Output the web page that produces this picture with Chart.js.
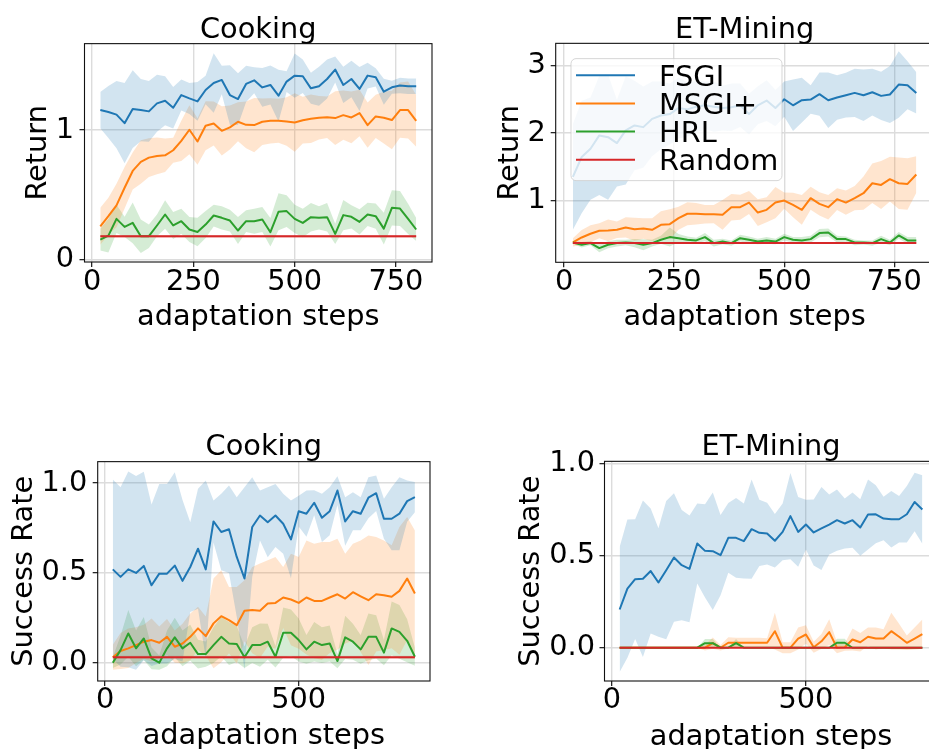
<!DOCTYPE html>
<html>
<head>
<meta charset="utf-8">
<script src="https://cdn.jsdelivr.net/npm/chart.js@4.4.1/dist/chart.umd.min.js"></script>
<style>
  html, body { margin: 0; padding: 0; background: #fff; }
  body { position: relative; width: 929px; height: 749px; overflow: hidden; }
  canvas { position: absolute; }
</style>
</head>
<body>
<canvas id="cookReturn" width="465" height="345" style="left:0px;top:0px"></canvas>
<canvas id="mineReturn" width="480" height="345" style="left:465px;top:0px"></canvas>
<canvas id="cookSuccess" width="465" height="345" style="left:0px;top:420px"></canvas>
<canvas id="mineSuccess" width="480" height="345" style="left:465px;top:420px"></canvas>
<script>
// ---- data -------------------------------------------------------------
const steps = [20,40,60,80,100,120,140,160,180,200,220,240,260,280,300,320,340,360,380,400,
               420,440,460,480,500,520,540,560,580,600,620,640,660,680,700,720,740,760,780,800];
const methods = ['FSGI', 'MSGI+', 'HRL', 'Random'];

const xTicksReturn = [0, 250, 500, 750];
const xTicksSuccess = [0, 500];
const yTicksCookReturn = [0, 1];
const yTicksMineReturn = [1, 2, 3];
const yTicksSuccess = [0, 0.5, 1];

// Cooking — return (mean and std over runs)
const cookRetFSGI = [1.155,1.14,1.12,1.054,1.163,1.155,1.145,1.207,1.227,1.173,1.271,1.245,1.222,1.31,1.364,1.388,1.271,1.24,1.357,1.385,
                     1.33,1.349,1.266,1.375,1.421,1.416,1.323,1.339,1.395,1.468,1.349,1.395,1.318,1.421,1.408,1.297,1.331,1.344,1.339,1.339];
const cookRetFSGIStd = [0.14,0.2,0.26,0.31,0.3,0.24,0.235,0.22,0.19,0.16,0.12,0.12,0.15,0.11,0.23,0.11,0.23,0.2,0.14,0.1,
                        0.15,0.15,0.2,0.08,0.17,0.13,0.12,0.15,0.15,0.1,0.14,0.14,0.17,0.1,0.07,0.1,0.05,0.06,0.06,0.06];
const cookRetMSGI = [0.258,0.336,0.419,0.555,0.685,0.755,0.788,0.801,0.806,0.845,0.917,1.003,0.912,1.034,1.052,0.995,1.021,1.065,1.041,1.039,
                     1.065,1.072,1.072,1.067,1.059,1.077,1.088,1.096,1.1,1.093,1.116,1.098,1.132,1.039,1.106,1.096,1.078,1.155,1.155,1.072];
const cookRetMSGIStd = [0.142,0.142,0.168,0.16,0.143,0.168,0.149,0.142,0.129,0.097,0.155,0.19,0.18,0.19,0.17,0.19,0.17,0.15,0.18,0.21,
                        0.18,0.175,0.17,0.187,0.225,0.18,0.188,0.168,0.16,0.207,0.19,0.2,0.18,0.175,0.167,0.2,0.226,0.213,0.22,0.2];
const cookRetHRL = [0.155,0.186,0.315,0.253,0.284,0.181,0.181,0.264,0.349,0.264,0.297,0.233,0.214,0.271,0.341,0.323,0.302,0.225,0.297,0.297,
                    0.31,0.212,0.37,0.375,0.315,0.284,0.328,0.323,0.328,0.199,0.344,0.331,0.292,0.349,0.336,0.24,0.4,0.395,0.315,0.233];
const cookRetHRLStd = [0.084,0.13,0.11,0.078,0.158,0.13,0.09,0.084,0.11,0.104,0.097,0.097,0.11,0.104,0.084,0.09,0.084,0.104,0.084,0.097,
                       0.097,0.11,0.142,0.123,0.11,0.11,0.11,0.09,0.11,0.078,0.116,0.09,0.097,0.09,0.097,0.123,0.136,0.136,0.116,0.088];
const cookRetRandom = [0.18,0.18,0.18,0.18,0.18,0.18,0.18,0.18,0.18,0.18,0.18,0.18,0.18,0.18,0.18,0.18,0.18,0.18,0.18,0.18,
                       0.18,0.18,0.18,0.18,0.18,0.18,0.18,0.18,0.18,0.18,0.18,0.18,0.18,0.18,0.18,0.18,0.18,0.18,0.18,0.18];
const cookRetRandomStd = [0.01,0.01,0.01,0.01,0.01,0.01,0.01,0.01,0.01,0.01,0.01,0.01,0.01,0.01,0.01,0.01,0.01,0.01,0.01,0.01,
                          0.01,0.01,0.01,0.01,0.01,0.01,0.01,0.01,0.01,0.01,0.01,0.01,0.01,0.01,0.01,0.01,0.01,0.01,0.01,0.01];

// ET-Mining — return
const mineRetFSGI = [1.353,1.647,1.77,1.966,1.94,1.853,2.04,2.113,2.088,2.21,2.26,2.28,2.37,2.35,2.39,2.41,2.39,2.37,2.38,2.41,
                     2.28,2.41,2.48,2.37,2.5,2.41,2.485,2.495,2.574,2.485,2.525,2.559,2.593,2.559,2.603,2.549,2.569,2.716,2.706,2.593];
const mineRetFSGIStd = [0.78,0.83,0.755,0.88,0.925,0.64,0.8,0.66,0.6,0.55,0.5,0.45,0.45,0.4,0.38,0.35,0.37,0.33,0.35,0.32,
                        0.3,0.28,0.3,0.27,0.26,0.38,0.33,0.21,0.32,0.41,0.33,0.33,0.355,0.38,0.345,0.357,0.42,0.49,0.355,0.305];
const mineRetMSGI = [0.387,0.46,0.515,0.559,0.564,0.574,0.608,0.583,0.593,0.574,0.647,0.657,0.745,0.81,0.81,0.804,0.804,0.794,0.907,0.907,
                     0.975,0.828,0.868,0.975,1.005,0.94,0.868,1.04,0.956,0.907,1.025,0.975,1.04,1.113,1.26,1.235,1.32,1.26,1.25,1.39];
const mineRetMSGIStd = [0.06,0.11,0.124,0.11,0.16,0.122,0.15,0.17,0.15,0.17,0.2,0.22,0.17,0.17,0.16,0.137,0.135,0.22,0.195,0.184,
                        0.17,0.197,0.184,0.23,0.12,0.18,0.22,0.17,0.17,0.18,0.16,0.18,0.18,0.245,0.29,0.355,0.33,0.38,0.38,0.27];
const mineRetHRL = [0.387,0.353,0.377,0.304,0.353,0.377,0.387,0.377,0.353,0.377,0.426,0.466,0.45,0.426,0.417,0.466,0.377,0.4,0.377,0.45,
                    0.426,0.4,0.417,0.4,0.466,0.426,0.417,0.436,0.525,0.534,0.436,0.436,0.387,0.387,0.377,0.436,0.387,0.49,0.417,0.417];
const mineRetHRLStd = [0.02,0.04,0.03,0.06,0.05,0.05,0.04,0.06,0.08,0.05,0.06,0.14,0.06,0.05,0.04,0.06,0.05,0.04,0.04,0.05,
                       0.05,0.04,0.05,0.04,0.05,0.04,0.05,0.05,0.06,0.06,0.05,0.04,0.04,0.03,0.04,0.05,0.04,0.05,0.05,0.05];
const mineRetRandom = [0.38,0.38,0.38,0.38,0.38,0.38,0.38,0.38,0.38,0.38,0.38,0.38,0.38,0.38,0.38,0.38,0.38,0.38,0.38,0.38,
                       0.38,0.38,0.38,0.38,0.38,0.38,0.38,0.38,0.38,0.38,0.38,0.38,0.38,0.38,0.38,0.38,0.38,0.38,0.38,0.38];
const mineRetRandomStd = [0.006,0.006,0.006,0.006,0.006,0.006,0.006,0.006,0.006,0.006,0.006,0.006,0.006,0.006,0.006,0.006,0.006,0.006,0.006,0.006,
                          0.006,0.006,0.006,0.006,0.006,0.006,0.006,0.006,0.006,0.006,0.006,0.006,0.006,0.006,0.006,0.006,0.006,0.006,0.006,0.006];

// Cooking — success rate
const cookSucFSGI = [0.52,0.478,0.52,0.5,0.539,0.431,0.496,0.496,0.541,0.456,0.533,0.635,0.52,0.787,0.728,0.743,0.589,0.469,0.756,0.82,
                     0.783,0.82,0.774,0.687,0.844,0.83,0.891,0.807,0.844,0.959,0.787,0.844,0.83,0.919,0.944,0.802,0.802,0.83,0.9,0.922];
const cookSucFSGIStd = [0.5,0.5,0.545,0.54,0.525,0.45,0.5,0.5,0.52,0.45,0.25,0.334,0.495,0.117,0.213,0.244,0.333,0.509,0.277,0.139,
                        0.195,0.176,0.167,0.217,0.086,0.129,0.07,0.134,0.134,0.08,0.135,0.106,0.092,0.114,0.099,0.111,0.176,0.203,0.115,0.084];
const cookSucMSGI = [0.03,0.065,0.08,0.098,0.117,0.126,0.111,0.144,0.089,0.107,0.144,0.191,0.148,0.219,0.259,0.237,0.209,0.289,0.293,0.289,
                     0.33,0.333,0.363,0.352,0.333,0.363,0.344,0.344,0.363,0.381,0.357,0.393,0.37,0.348,0.381,0.376,0.367,0.4,0.469,0.385];
const cookSucMSGIStd = [0.07,0.1,0.11,0.1,0.095,0.12,0.09,0.1,0.09,0.11,0.13,0.12,0.11,0.25,0.256,0.185,0.213,0.17,0.24,0.263,
                        0.24,0.256,0.17,0.255,0.256,0.318,0.319,0.328,0.309,0.309,0.25,0.27,0.311,0.361,0.319,0.305,0.287,0.356,0.342,0.352];
const cookSucHRL = [0.0,0.07,0.163,0.08,0.135,0.024,0.0,0.08,0.141,0.08,0.111,0.048,0.048,0.098,0.144,0.107,0.104,0.03,0.098,0.098,
                    0.117,0.033,0.167,0.167,0.126,0.074,0.117,0.098,0.107,0.009,0.141,0.117,0.074,0.144,0.144,0.056,0.191,0.172,0.122,0.033];
const cookSucHRLStd = [0.03,0.08,0.13,0.1,0.12,0.06,0.04,0.1,0.11,0.1,0.1,0.08,0.07,0.1,0.11,0.12,0.1,0.06,0.1,0.12,
                       0.1,0.06,0.14,0.13,0.12,0.08,0.11,0.1,0.1,0.04,0.12,0.1,0.08,0.13,0.12,0.07,0.15,0.15,0.12,0.05];
const cookSucRandom = [0.03,0.03,0.03,0.03,0.03,0.03,0.03,0.03,0.03,0.03,0.03,0.03,0.03,0.03,0.03,0.03,0.03,0.03,0.03,0.03,
                       0.03,0.03,0.03,0.03,0.03,0.03,0.03,0.03,0.03,0.03,0.03,0.03,0.03,0.03,0.03,0.03,0.03,0.03,0.03,0.03];
const cookSucRandomStd = [0.008,0.008,0.008,0.008,0.008,0.008,0.008,0.008,0.008,0.008,0.008,0.008,0.008,0.008,0.008,0.008,0.008,0.008,0.008,0.008,
                          0.008,0.008,0.008,0.008,0.008,0.008,0.008,0.008,0.008,0.008,0.008,0.008,0.008,0.008,0.008,0.008,0.008,0.008,0.008,0.008];

// ET-Mining — success rate
const mineSucFSGI = [0.208,0.322,0.373,0.375,0.417,0.355,0.422,0.491,0.449,0.429,0.567,0.527,0.525,0.504,0.598,0.598,0.58,0.645,0.625,0.621,
                     0.582,0.63,0.716,0.63,0.67,0.627,0.649,0.67,0.694,0.676,0.694,0.654,0.725,0.726,0.703,0.699,0.699,0.726,0.793,0.752];
const mineSucFSGIStd = [0.34,0.376,0.326,0.426,0.34,0.295,0.376,0.35,0.3,0.29,0.217,0.254,0.32,0.218,0.19,0.217,0.204,0.27,0.18,0.168,
                        0.145,0.154,0.235,0.19,0.135,0.18,0.226,0.163,0.167,0.136,0.15,0.154,0.19,0.158,0.118,0.154,0.127,0.154,0.159,0.186];
const mineSucMSGI = [0,0,0,0,0,0,0,0,0,0,0,0,0.025,0,0.027,0.027,0.027,0.027,0.027,0.027,
                     0.09,0,0,0.05,0.072,0.003,0.035,0.085,0,0.003,0.045,0.03,0.06,0.05,0.05,0.09,0.06,0.027,0.05,0.074];
const mineSucMSGIStd = [0,0,0,0,0,0,0,0,0,0,0,0.015,0.03,0.015,0.03,0.027,0.027,0.027,0.027,0.025,
                        0.1,0.03,0.03,0.06,0.05,0.03,0.04,0.07,0.03,0.02,0.06,0.05,0.05,0.06,0.05,0.1,0.07,0.04,0.06,0.08];
const mineSucHRL = [0,0,0,0,0,0,0,0,0,0,0,0.025,0.025,0,0,0.025,0,0,0,0,
                    0,0,0,0,0,0,0,0,0.027,0.027,0,0,0,0,0,0,0,0,0,0];
const mineSucHRLStd = [0,0,0,0,0,0,0,0,0,0,0,0.022,0.022,0,0,0.022,0,0,0,0,
                       0,0,0,0,0,0,0,0,0.022,0.022,0,0,0,0,0,0,0,0,0,0];
const mineSucRandom = [0,0,0,0,0,0,0,0,0,0,0,0,0,0,0,0,0,0,0,0,
                       0,0,0,0,0,0,0,0,0,0,0,0,0,0,0,0,0,0,0,0];
const mineSucRandomStd = [0,0,0,0,0,0,0,0,0,0,0,0,0,0,0,0,0,0,0,0,
                          0,0,0,0,0,0,0,0,0,0,0,0,0,0,0,0,0,0,0,0];

// ---- styling ------------------------------------------------------------
const FONT = "'DejaVu Sans', 'Liberation Sans', sans-serif";
const FONT_SIZE = 28.8;
const palette = ['#1f77b4', '#ff7f0e', '#2ca02c', '#d62728'];
Chart.defaults.font.family = FONT;
Chart.defaults.color = '#000';

function rgba(hex, a) {
  const n = parseInt(hex.slice(1), 16);
  return `rgba(${n >> 16},${(n >> 8) & 255},${n & 255},${a})`;
}
const points = ys => steps.map((x, i) => ({ x, y: ys[i] }));

// shaded mean ± std bands first, then the mean curves on top
function buildDatasets(series) {
  const ds = [];
  series.forEach((s, i) => {
    ds.push({ data: points(s.mean.map((m, j) => m + s.std[j])), fill: '+1',
              backgroundColor: rgba(palette[i], 0.2), borderColor: 'rgba(0,0,0,0)',
              borderWidth: 0, pointRadius: 0, order: 20 + i });
    ds.push({ data: points(s.mean.map((m, j) => m - s.std[j])), fill: false,
              borderColor: 'rgba(0,0,0,0)', borderWidth: 0, pointRadius: 0, order: 20 + i });
  });
  series.forEach((s, i) => {
    ds.push({ label: methods[i], data: points(s.mean), borderColor: palette[i],
              backgroundColor: palette[i], borderWidth: 2, pointRadius: 0, fill: false,
              tension: 0, borderJoinStyle: 'round', order: 4 - i, isMean: true });
  });
  return ds;
}

// full box around the plotting area
const framePlugin = {
  id: 'frame',
  afterDraw(chart) {
    const a = chart.chartArea, ctx = chart.ctx;
    ctx.save();
    ctx.strokeStyle = '#111';
    ctx.lineWidth = 1.1;
    ctx.strokeRect(a.left, a.top, a.right - a.left, a.bottom - a.top);
    ctx.restore();
  }
};

// legend box laid over the upper-left corner of the plot
const cornerLegend = {
  id: 'cornerLegend',
  afterDraw(chart) {
    const a = chart.chartArea, ctx = chart.ctx;
    const x = a.left + 15.3, y = a.top + 15.3, w = 211, h = 122, r = 5;
    ctx.save();
    ctx.beginPath();
    ctx.moveTo(x + r, y);
    ctx.arcTo(x + w, y, x + w, y + h, r);
    ctx.arcTo(x + w, y + h, x, y + h, r);
    ctx.arcTo(x, y + h, x, y, r);
    ctx.arcTo(x, y, x + w, y, r);
    ctx.closePath();
    ctx.fillStyle = 'rgba(255,255,255,0.8)';
    ctx.fill();
    ctx.strokeStyle = 'rgba(204,204,204,0.8)';
    ctx.lineWidth = 1;
    ctx.stroke();
    const lines = chart.data.datasets.filter(d => d.isMean);
    ctx.font = `${FONT_SIZE}px ${FONT}`;
    ctx.textBaseline = 'alphabetic';
    ctx.textAlign = 'left';
    lines.forEach((d, i) => {
      const ly = y + 16.7 + 28.1 * i;
      ctx.strokeStyle = d.borderColor;
      ctx.lineWidth = 2;
      ctx.beginPath();
      ctx.moveTo(x + 5, ly);
      ctx.lineTo(x + 64, ly);
      ctx.stroke();
      ctx.fillStyle = '#000';
      ctx.fillText(d.label, x + 88, ly + 10.3);
    });
    ctx.restore();
  }
};

function makeChart(id, cfg) {
  const font = { family: FONT, size: FONT_SIZE, weight: 'normal', lineHeight: 1 };
  const titleFont = { family: FONT, size: FONT_SIZE, weight: 'normal', lineHeight: 0.8 };
  const grid = { color: '#dcdcdc', lineWidth: 1.4, drawTicks: true, tickLength: 5,
                 tickColor: '#000', tickWidth: 1.1 };
  return new Chart(document.getElementById(id), {
    type: 'line',
    data: { datasets: buildDatasets(cfg.series) },
    options: {
      responsive: false, animation: false, devicePixelRatio: 1, events: [],
      layout: { padding: { left: 0, right: cfg.padRight, top: 0, bottom: 0 } },
      plugins: {
        legend: { display: false },
        tooltip: { enabled: false },
        title: { display: true, text: cfg.title, color: '#000', font: titleFont, fullSize: false,
                 padding: { top: cfg.titlePad[0], bottom: cfg.titlePad[1] } }
      },
      scales: {
        x: {
          type: 'linear', min: -19, max: 839,
          afterBuildTicks: s => { s.ticks = cfg.xTicks.map(v => ({ value: v })); },
          afterFit: s => { s.height = cfg.xHeight; },
          grid, border: { display: false },
          ticks: { font, color: '#000', padding: cfg.xTickPad, maxRotation: 0, autoSkip: false,
                   callback: v => String(v) },
          title: { display: true, text: 'adaptation steps', color: '#000', font,
                   padding: { top: 0, bottom: cfg.xTitlePad } }
        },
        y: {
          type: 'linear', min: cfg.yRange[0], max: cfg.yRange[1],
          afterBuildTicks: s => { s.ticks = cfg.yTicks.map(v => ({ value: v })); },
          afterFit: s => { s.width = cfg.yWidth; },
          grid, border: { display: false },
          ticks: { font, color: '#000', padding: cfg.yTickPad, autoSkip: false,
                   callback: v => v.toFixed(cfg.yDigits) },
          title: { display: true, text: cfg.yLabel, color: '#000', font,
                   padding: { top: cfg.yTitlePad, bottom: 0 } }
        }
      }
    },
    plugins: cfg.legend ? [framePlugin, cornerLegend] : [framePlugin]
  });
}

makeChart('cookReturn', {
  title: 'Cooking', yLabel: 'Return',
  series: [
    { mean: cookRetFSGI, std: cookRetFSGIStd },
    { mean: cookRetMSGI, std: cookRetMSGIStd },
    { mean: cookRetHRL, std: cookRetHRLStd },
    { mean: cookRetRandom, std: cookRetRandomStd }
  ],
  xTicks: xTicksReturn, yTicks: yTicksCookReturn, yRange: [-0.018, 1.668], yDigits: 0,
  padRight: 33, yWidth: 84.5, xHeight: 83, titlePad: [18.8, 1.8],
  xTickPad: 1.2, xTitlePad: 13.5, yTitlePad: 24.5, yTickPad: 5.5
});

makeChart('mineReturn', {
  title: 'ET-Mining', yLabel: 'Return', legend: true,
  series: [
    { mean: mineRetFSGI, std: mineRetFSGIStd },
    { mean: mineRetMSGI, std: mineRetMSGIStd },
    { mean: mineRetHRL, std: mineRetHRLStd },
    { mean: mineRetRandom, std: mineRetRandomStd }
  ],
  xTicks: xTicksReturn, yTicks: yTicksMineReturn, yRange: [0.094, 3.324], yDigits: 0,
  padRight: 11.5, yWidth: 90.7, xHeight: 82.7, titlePad: [18.8, 1.5],
  xTickPad: 0.9, xTitlePad: 13.5, yTitlePad: 31.5, yTickPad: 5
});

makeChart('cookSuccess', {
  title: 'Cooking', yLabel: 'Success Rate',
  series: [
    { mean: cookSucFSGI, std: cookSucFSGIStd },
    { mean: cookSucMSGI, std: cookSucMSGIStd },
    { mean: cookSucHRL, std: cookSucHRLStd },
    { mean: cookSucRandom, std: cookSucRandomStd }
  ],
  xTicks: xTicksSuccess, yTicks: yTicksSuccess, yRange: [-0.102, 1.12], yDigits: 1,
  padRight: 35, yWidth: 97.7, xHeight: 84, titlePad: [16.1, 2.5],
  xTickPad: 0.5, xTitlePad: 14.5, yTitlePad: 9.8, yTickPad: 5.4
});

makeChart('mineSuccess', {
  title: 'ET-Mining', yLabel: 'Success Rate',
  series: [
    { mean: mineSucFSGI, std: mineSucFSGIStd },
    { mean: mineSucMSGI, std: mineSucMSGIStd },
    { mean: mineSucHRL, std: mineSucHRLStd },
    { mean: mineSucRandom, std: mineSucRandomStd }
  ],
  xTicks: xTicksSuccess, yTicks: yTicksSuccess, yRange: [-0.181, 1.014], yDigits: 1,
  padRight: 7.5, yWidth: 139.5, xHeight: 84, titlePad: [16.1, 2.2],
  xTickPad: 0.5, xTitlePad: 13.5, yTitlePad: 52.5, yTickPad: 4.5
});
</script>
</body>
</html>
